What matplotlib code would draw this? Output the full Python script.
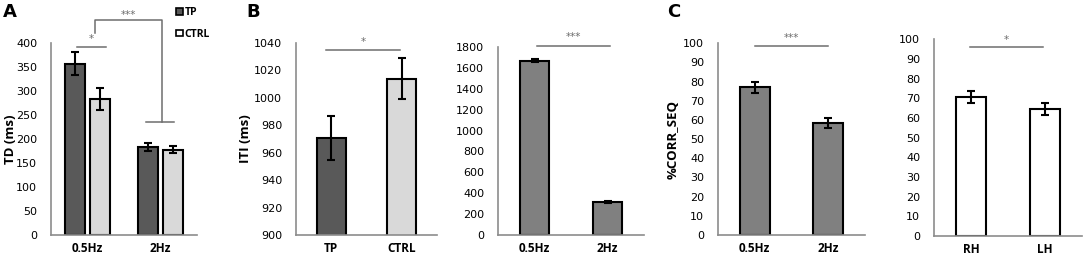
import matplotlib
matplotlib.use("Agg")
import matplotlib.pyplot as plt
from matplotlib.patches import Patch

# ── Data ──────────────────────────────────────────────────────────────────────
freq_labels = ["0.5Hz", "2Hz"]
td_tp = [357, 184]
td_tp_err = [24, 8]
td_ctrl = [283, 178]
td_ctrl_err = [23, 7]

group_labels = ["TP", "CTRL"]
iti_group = [970.5, 1014]
iti_group_err = [16, 15]

iti_freq = [1670, 320]
iti_freq_err = [15, 10]

corr_freq = [77, 58.5]
corr_freq_err = [3, 2.5]

hand_labels = ["RH", "LH"]
corr_hand = [70.8, 64.7]
corr_hand_err = [3, 3]

DARK = "#595959"
LIGHT = "#d9d9d9"
MID = "#808080"
SPINE = "#8c8c8c"
SIG = "#6e6e6e"

W, H = 1084, 258
fig = plt.figure(figsize=(W / 100, H / 100), dpi=100)
fig.patch.set_facecolor("white")


def px_axes(left, right, top, bottom):
    return fig.add_axes([left / W, 1 - bottom / H, (right - left) / W, (bottom - top) / H])


def style(ax, labels, ylim, yticks):
    ax.set_xlim(-0.5, 1.5)
    ax.set_ylim(*ylim)
    ax.set_yticks(yticks)
    ax.set_xticks([0, 1])
    ax.set_xticklabels(labels, fontsize=8.5, fontweight="bold", family="Open Sans")
    ax.tick_params(axis="both", length=0)
    ax.tick_params(axis="y", pad=10, labelsize=8)
    ax.tick_params(axis="x", pad=5)
    for s in ["top", "right"]:
        ax.spines[s].set_visible(False)
    for s in ["left", "bottom"]:
        ax.spines[s].set_color(SPINE)
        ax.spines[s].set_linewidth(1.2)


def ylab(ax, text, xfrac):
    ax.set_ylabel(text, fontsize=9.5, fontweight="bold", family="Open Sans")
    ax.yaxis.set_label_coords(xfrac, 0.5)


def sig(ax, x0, x1, y, text, ty):
    ax.plot([x0, x1], [y, y], color=SIG, lw=1.1, clip_on=False)
    ax.text((x0 + x1) / 2, ty, text, ha="center", va="center", fontsize=7.5, color=SIG, clip_on=False)


err_kw = dict(ecolor="black", elinewidth=1.5, capsize=3, capthick=1.5)
bar_kw = dict(edgecolor="black", linewidth=1.5, zorder=2)

# ── Panel A ───────────────────────────────────────────────────────────────────
axA = px_axes(51, 197, 43.3, 235)
xs = [0, 1]
off, bw = 0.171, 0.274
axA.bar([x - off for x in xs], td_tp, bw, yerr=td_tp_err, color=DARK, error_kw=err_kw, **bar_kw, label="TP")
axA.bar([x + off for x in xs], td_ctrl, bw, yerr=td_ctrl_err, color=LIGHT, error_kw=err_kw, **bar_kw, label="CTRL")
style(axA, freq_labels, (0, 400), range(0, 401, 50))
ylab(axA, "TD (ms)", -0.235)
sig(axA, -0.145, 0.25, 393, "*", 410)
axA.plot([0.1, 0.1, 1.02, 1.02], [421, 448, 448, 235], color=SIG, lw=1.1, clip_on=False)
axA.plot([0.8, 1.185], [235, 235], color=SIG, lw=1.1, clip_on=False)
axA.text(0.56, 460, "***", ha="center", va="center", fontsize=7.5, color=SIG, clip_on=False)
handles = [Patch(facecolor=DARK, edgecolor="black", linewidth=1.2),
           Patch(facecolor="white", edgecolor="black", linewidth=1.2)]
fig.legend(handles, group_labels, loc="upper left", bbox_to_anchor=(167 / W, 1 + 2 / H),
           frameon=False, handlelength=0.6, handleheight=0.6, handletextpad=0.2,
           labelspacing=1.0, prop=dict(size=7.5, weight="bold", family="Open Sans"))
fig.text(3 / W, 1 - 12 / H, "A", fontsize=13, fontweight="bold", va="center", ha="left")

# ── Panel B left ──────────────────────────────────────────────────────────────
axB1 = px_axes(296, 437, 43, 235)
axB1.bar(xs, iti_group, 0.41, yerr=iti_group_err, color=[DARK, LIGHT], error_kw=err_kw, **bar_kw)
style(axB1, group_labels, (900, 1040), range(900, 1041, 20))
ylab(axB1, "ITI (ms)", -0.31)
sig(axB1, -0.07, 0.98, 1035, "*", 1041)
fig.text(246 / W, 1 - 12 / H, "B", fontsize=13, fontweight="bold", va="center", ha="left")

# ── Panel B right ─────────────────────────────────────────────────────────────
axB2 = px_axes(498, 644, 47, 235)
axB2.bar(xs, iti_freq, 0.4, yerr=iti_freq_err, color=MID, error_kw=err_kw, **bar_kw)
style(axB2, freq_labels, (0, 1800), range(0, 1801, 200))
sig(axB2, 0.03, 1.03, 1810, "***", 1895)

# ── Panel C left ──────────────────────────────────────────────────────────────
axC1 = px_axes(718, 865, 43.3, 235)
axC1.bar(xs, corr_freq, 0.41, yerr=corr_freq_err, color=MID, error_kw=err_kw, **bar_kw)
style(axC1, freq_labels, (0, 100), range(0, 101, 10))
ylab(axC1, "%CORR_SEQ", -0.26)
sig(axC1, 0.0, 1.0, 98.4, "***", 103)
fig.text(667 / W, 1 - 12 / H, "C", fontsize=13, fontweight="bold", va="center", ha="left")

# ── Panel C right ─────────────────────────────────────────────────────────────
axC2 = px_axes(934, 1082, 39.3, 236)
axC2.bar(xs, corr_hand, 0.41, yerr=corr_hand_err, color="white", error_kw=err_kw, **bar_kw)
style(axC2, hand_labels, (0, 100), range(0, 101, 10))
sig(axC2, -0.01, 0.97, 96.3, "*", 99.8)

fig.savefig("out.png", dpi=100, facecolor="white")
